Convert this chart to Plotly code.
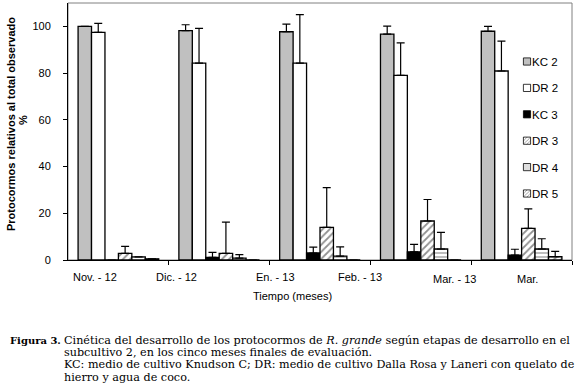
import plotly.graph_objects as go

# ---------------- data ----------------
groups = [0, 1, 2, 3, 4]
month_labels = ["Nov. - 12", "Dic. - 12", "En. - 13", "Feb. - 13", "Mar. - 13", "Mar."]
y_ticks = [0, 20, 40, 60, 80, 100]

series_names = ["KC 2", "DR 2", "KC 3", "DR 3", "DR 4", "DR 5"]
kc2 = [100.0, 98.2, 97.7, 96.7, 97.9]
kc2_err = [0.0, 2.5, 3.3, 3.4, 2.1]
dr2 = [97.4, 84.3, 84.3, 79.0, 80.9]
dr2_err = [3.9, 14.8, 20.7, 13.9, 12.8]
kc3 = [0.0, 1.1, 3.0, 3.5, 2.1]
kc3_err = [0.0, 2.2, 2.5, 3.2, 2.5]
dr3 = [2.8, 2.8, 14.0, 16.7, 13.5]
dr3_err = [3.0, 13.4, 17.0, 9.2, 8.4]
dr4 = [1.3, 0.8, 1.7, 4.7, 4.7]
dr4_err = [0.0, 1.5, 3.9, 7.1, 4.4]
dr5 = [0.5, 0.0, 0.0, 0.0, 1.4]
dr5_err = [0.0, 0.0, 0.0, 0.0, 2.3]

y_title = "Protocormos relativos al total observado"
y_title_unit = "%"
x_title = "Tiempo (meses)"
caption_head = "Figura 3."
caption_lines = [
    "Cinética del desarrollo de los protocormos de <i>R. grande</i> según etapas de desarrollo en el",
    "subcultivo 2, en los cinco meses finales de evaluación.",
    "KC: medio de cultivo Knudson C; DR: medio de cultivo Dalla Rosa y Laneri con quelato de",
    "hierro y agua de coco.",
]

# ---------------- layout helpers (pixel geometry) ----------------
W, H = 580, 389
L, R, T, B = 68, 8, 3, 129
PW, PH = W - L - R, H - T - B
BOT = T + PH  # pixel y of plot bottom


def px_x(px):
    return (px - L) / PW


def px_y(py):
    return (BOT - py) / PH


label_pos = [-0.232, 0.581, 1.554, 2.397, 3.339, 4.063]
label_y_px = [277, 277, 277, 277, 279, 279]
caption_y_px = [340, 352.5, 364.5, 377]

SANS = "Liberation Sans, Arial, sans-serif"
SERIF = "DejaVu Serif, serif"

styles = [
    dict(color="#c0c0c0"),
    dict(color="#ffffff"),
    dict(color="#000000"),
    dict(color="#ffffff", pattern=dict(shape="/", fgcolor="#222222", bgcolor="#ffffff", size=5, solidity=0.35)),
    dict(color="#ffffff", pattern=dict(shape="-", fgcolor="#222222", bgcolor="#ffffff", size=4, solidity=0.3)),
    dict(color="#ffffff", pattern=dict(shape="/", fgcolor="#222222", bgcolor="#ffffff", size=5, solidity=0.35)),
]
values = [kc2, dr2, kc3, dr3, dr4, dr5]
errors = [kc2_err, dr2_err, kc3_err, dr3_err, dr4_err, dr5_err]

fig = go.Figure()
for name, vals, errs, st in zip(series_names, values, errors, styles):
    marker = dict(line=dict(color="#000000", width=1.3), **st)
    fig.add_trace(go.Bar(
        x=groups, y=vals, name=name, legendgroup=name,
        marker=marker,
        error_y=dict(type="data", array=errs, arrayminus=[0] * len(errs), symmetric=False,
                     color="#000000", thickness=1.2, width=4),
    ))

annotations = []
for lab, xp, ypx in zip(month_labels, label_pos, label_y_px):
    annotations.append(dict(x=xp, y=px_y(ypx), xref="x", yref="paper", text=lab, showarrow=False,
                            xanchor="center", yanchor="middle",
                            font=dict(family=SANS, size=11, color="#000000")))

annotations.append(dict(x=px_x(292), y=px_y(296), xref="paper", yref="paper", text=x_title,
                        showarrow=False, xanchor="center", yanchor="middle",
                        font=dict(family=SANS, size=11, color="#000000")))
annotations.append(dict(x=px_x(11), y=px_y(124), xref="paper", yref="paper",
                        text="<b>" + y_title + "</b>", textangle=-90, showarrow=False,
                        xanchor="center", yanchor="middle",
                        font=dict(family=SANS, size=11, color="#000000")))
annotations.append(dict(x=px_x(23), y=px_y(120), xref="paper", yref="paper",
                        text="<b>" + y_title_unit + "</b>", textangle=-90, showarrow=False,
                        xanchor="center", yanchor="middle",
                        font=dict(family=SANS, size=11, color="#000000")))
annotations.append(dict(x=px_x(8), y=px_y(caption_y_px[0]), xref="paper", yref="paper",
                        xanchor="left", yanchor="middle", text="<b>" + caption_head + "</b>",
                        showarrow=False, font=dict(family=SERIF, size=10, color="#000000")))
for line, ypx in zip(caption_lines, caption_y_px):
    annotations.append(dict(x=px_x(62), y=px_y(ypx), xref="paper", yref="paper",
                            xanchor="left", yanchor="middle", align="left", text=line,
                            showarrow=False, font=dict(family=SERIF, size=11.2, color="#000000")))

fig.update_layout(
    width=W, height=H,
    margin=dict(l=L, r=R, t=T, b=B),
    paper_bgcolor="#ffffff", plot_bgcolor="#ffffff",
    barmode="group", bargap=0.2, bargroupgap=0,
    font=dict(family=SANS, size=11, color="#000000"),
    showlegend=True,
    legend=dict(x=px_x(492), y=px_y(47), xanchor="left", yanchor="top",
                traceorder="grouped", tracegroupgap=7.4, bgcolor="rgba(0,0,0,0)",
                font=dict(family=SANS, size=11.5, color="#000000"), itemwidth=30),
    annotations=annotations,
    shapes=[dict(type="rect", xref="paper", yref="paper", x0=0, x1=1, y0=0, y1=1,
                 line=dict(color="#808080", width=1), layer="below")],
)
fig.update_xaxes(range=[-0.5, 4.5], tickmode="array", tickvals=[0.5, 1.5, 2.5, 3.5, 4.5],
                 ticktext=["", "", "", "", ""], ticks="outside", ticklen=4, tickcolor="#000000",
                 showline=True, linecolor="#000000", linewidth=1, showgrid=False, zeroline=False,
                 fixedrange=True)
fig.update_yaxes(range=[0, 110], tickmode="array", tickvals=y_ticks, ticks="outside", ticklen=4,
                 tickcolor="#000000", showline=True, linecolor="#000000", linewidth=1,
                 showgrid=False, zeroline=False, ticklabelstandoff=10, fixedrange=True,
                 tickfont=dict(family=SANS, size=11, color="#000000"))

post = """
document.body.style.margin = '0';
document.body.style.padding = '0';
var gd = document.getElementById('{plot_id}');
function shrinkLegend() {
  document.querySelectorAll('.legend .legendpoints').forEach(function (g) {
    g.setAttribute('transform', 'translate(23,0) scale(0.6)');
  });
}
shrinkLegend();
if (gd && gd.on) { gd.on('plotly_afterplot', shrinkLegend); }
setTimeout(shrinkLegend, 50);
"""

fig.write_html("out.html", post_script=post, config={"displayModeBar": False})
